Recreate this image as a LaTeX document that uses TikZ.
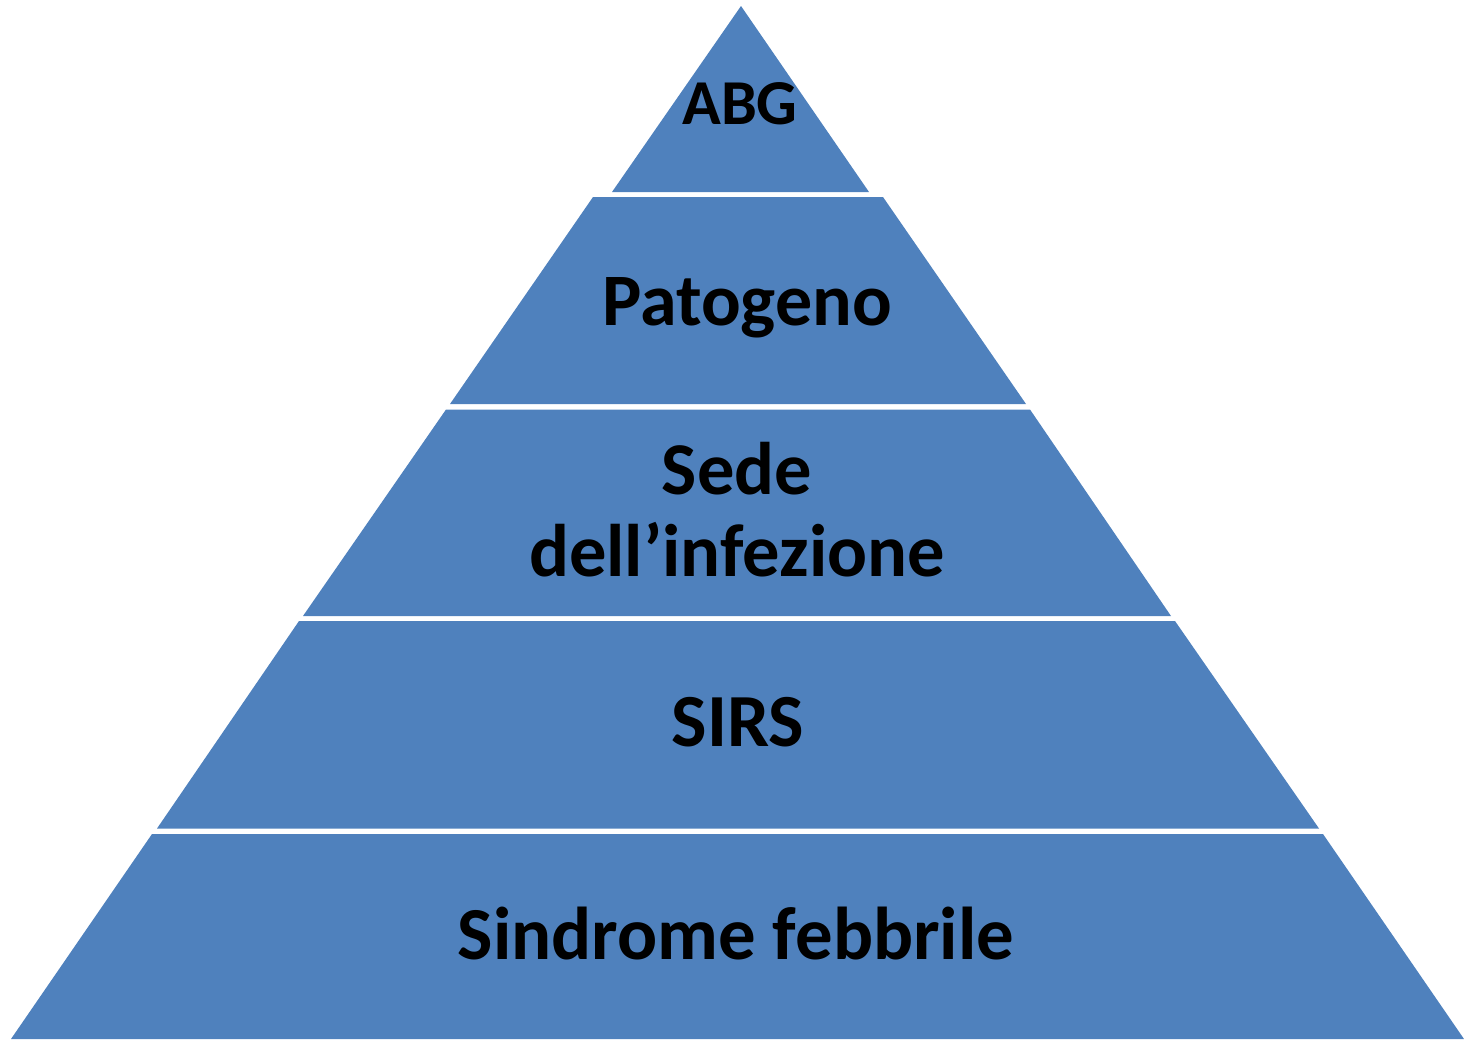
\documentclass[tikz,border=0pt]{standalone}
\usepackage{fontspec}
\setmainfont{Carlito}
\definecolor{pyrblue}{HTML}{4F81BD}
\begin{document}
\begin{tikzpicture}[x=1pt,y=-1pt,
  layer/.style={fill=pyrblue,draw=none},
  lbl/.style={anchor=base,inner sep=0pt,text=black,align=center}]
\useasboundingbox (0,0) rectangle (1464,1039);
% layers
\fill[layer] (741,6) -- (869,192) -- (612,192) -- cycle;
\fill[layer] (593,197) -- (883,197) -- (1026,404) -- (450,404) -- cycle;
\fill[layer] (446,409.5) -- (1030,409.5) -- (1171,616) -- (303,616) -- cycle;
\fill[layer] (299,621) -- (1175,621) -- (1319,828.5) -- (157,828.5) -- cycle;
\fill[layer] (152,834) -- (1323,834) -- (1464,1039) -- (11,1039) -- cycle;
% labels
\node[lbl,font=\bfseries\fontsize{64}{70}\selectfont] (abg) at (740,124) {ABG};
\node[lbl,font=\bfseries\fontsize{74}{82}\selectfont] (pat) at (747,325) {Patogeno};
\node[lbl,font=\bfseries\fontsize{74.5}{82}\selectfont] (sede) at (737,494) {Sede};
\node[lbl,font=\bfseries\fontsize{74.5}{82}\selectfont] (dell) at (737,576) {dell’infezione};
\node[lbl,font=\bfseries\fontsize{75}{82}\selectfont] (sirs) at (738,746) {SIRS};
\node[lbl,font=\bfseries\fontsize{74.8}{82}\selectfont] (sind) at (736,959) {Sindrome febbrile};
\end{tikzpicture}
\end{document}
